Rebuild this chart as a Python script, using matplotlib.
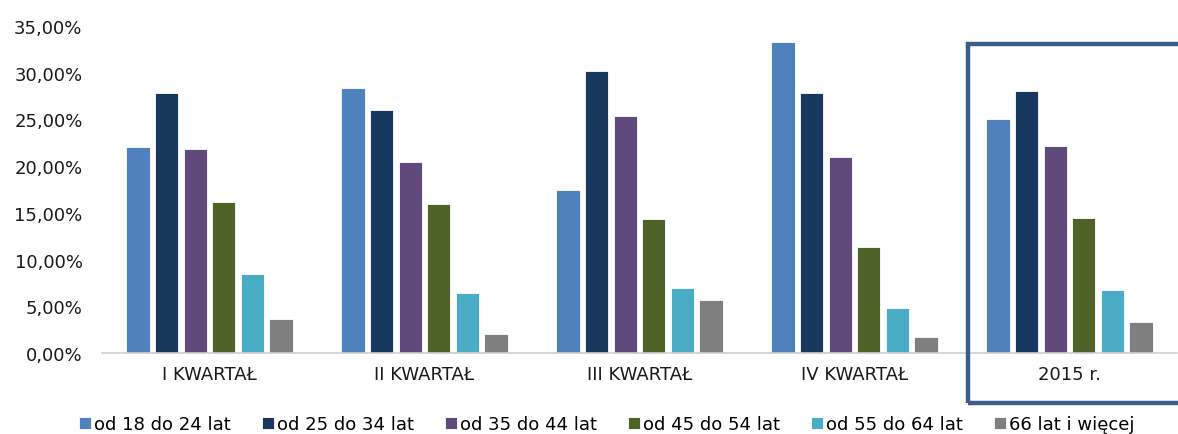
import numpy as np
import matplotlib.pyplot as plt
from matplotlib.patches import Rectangle
from matplotlib.ticker import FuncFormatter

plt.rcParams['font.family'] = ['DejaVu Sans']

groups = ["I KWARTAŁ", "II KWARTAŁ", "III KWARTAŁ", "IV KWARTAŁ", "2015 r."]
series = ["od 18 do 24 lat", "od 25 do 34 lat", "od 35 do 44 lat",
          "od 45 do 54 lat", "od 55 do 64 lat", "66 lat i więcej"]
colors = ["#4F81BD", "#17375E", "#604A7B", "#4F6228", "#4BACC6", "#7F7F7F"]

age_18_24 = [22.0, 28.4, 17.4, 33.3, 25.0]
age_25_34 = [27.8, 26.0, 30.2, 27.8, 28.0]
age_35_44 = [21.8, 20.4, 25.4, 21.0, 22.2]
age_45_54 = [16.2, 16.0, 14.3, 11.3, 14.5]
age_55_64 = [8.5, 6.4, 7.0, 4.8, 6.7]
age_66_up = [3.6, 2.0, 5.7, 1.7, 3.3]
values = [age_18_24, age_25_34, age_35_44, age_45_54, age_55_64, age_66_up]

fig = plt.figure(figsize=(11.78, 4.35), dpi=100)
ax = fig.add_axes([102 / 1178, 1 - 354 / 435, 1075 / 1178, (354 - 27) / 435])

x = np.arange(len(groups))
step = 0.133
width = 0.108
for i, (vals, col, name) in enumerate(zip(values, colors, series)):
    ax.bar(x + (i - 2.5) * step, vals, width, color=col, label=name,
           edgecolor="white", linewidth=0.6)

ax.set_xlim(-0.5, len(groups) - 0.5)
ax.set_ylim(0, 35)
ax.set_yticks(np.arange(0, 36, 5))
ax.yaxis.set_major_formatter(FuncFormatter(lambda v, p: f"{v:.2f}%".replace(".", ",")))
ax.set_xticks(x)
ax.set_xticklabels(groups)
ax.tick_params(axis="both", length=0, labelsize=13, colors="#1A1A1A")
ax.tick_params(axis="x", pad=9)
ax.tick_params(axis="y", pad=14)
for side in ["top", "right", "left"]:
    ax.spines[side].set_visible(False)
ax.spines["bottom"].set_color("#D0D0D0")
ax.spines["bottom"].set_linewidth(1.2)

# highlight frame around the yearly summary
fig.add_artist(Rectangle((968 / 1178, 1 - 404 / 435), 260 / 1178, (404 - 45) / 435,
                         transform=fig.transFigure, fill=False,
                         edgecolor="#3A5D8A", linewidth=3.2, clip_on=False))

fig.legend(loc="center", bbox_to_anchor=(0.515, 1 - 425 / 435), ncol=6,
           frameon=False, fontsize=13, handlelength=0.65, handleheight=0.65,
           handletextpad=0.15, columnspacing=1.75, borderaxespad=0)

fig.savefig("out.png", dpi=100)
